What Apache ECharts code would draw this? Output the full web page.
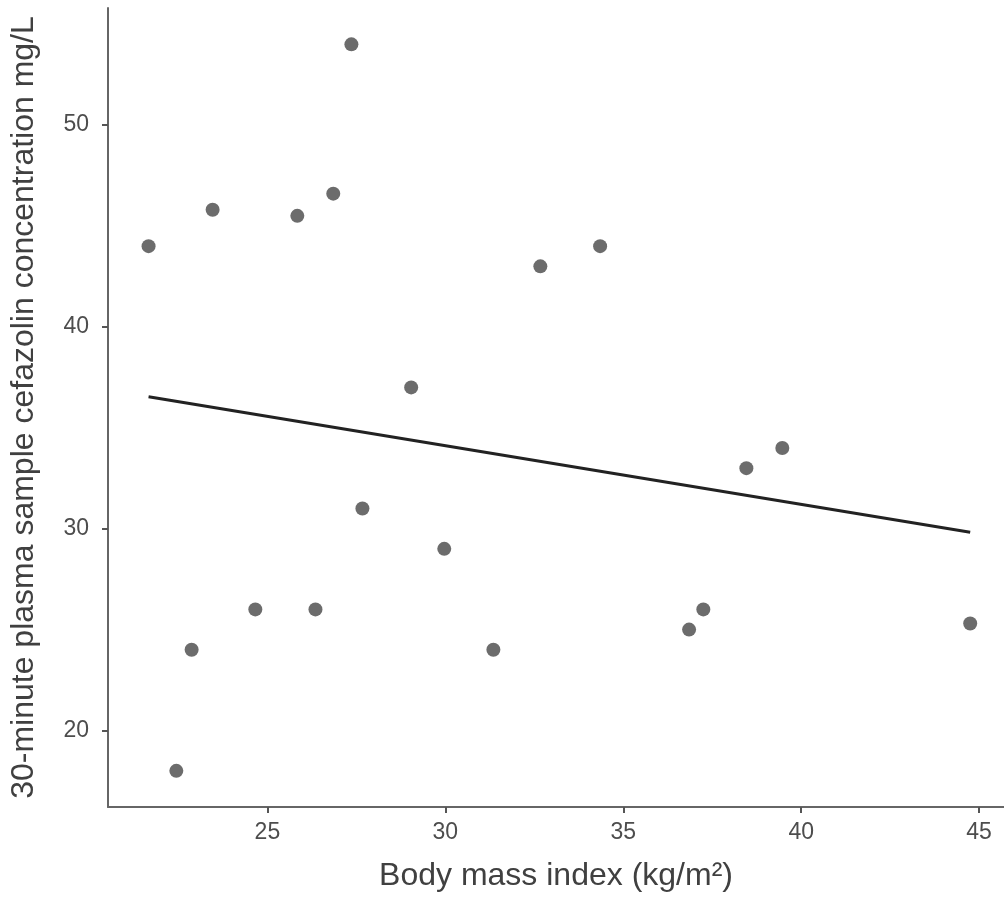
<!DOCTYPE html>
<html>
<head>
<meta charset="utf-8">
<style>
  html, body { margin: 0; padding: 0; background: #fff; }
  #chart { width: 1004px; height: 906px; }
</style>
<script src="https://cdn.jsdelivr.net/npm/echarts@6/dist/echarts.min.js"></script>
</head>
<body>
<div id="chart"></div>
<script>
// Body mass index (kg/m²) per patient
const bmi = [21.66, 22.44, 22.87, 23.46, 24.66, 25.84, 26.35, 26.85, 27.36, 27.67,
             29.04, 29.97, 31.35, 32.67, 34.35, 36.85, 37.25, 38.46, 39.47, 44.75];
// 30-minute plasma cefazolin concentration (mg/L)
const cefazolin = [44, 18, 24, 45.8, 26, 45.5, 26, 46.6, 54, 31,
                   37, 29, 24, 43, 44, 25, 26, 33, 34, 25.3];
const xTicks = [25, 30, 35, 40, 45];
const yTicks = [20, 30, 40, 50];

const points = bmi.map((x, i) => [x, cefazolin[i]]);

// ordinary least squares fit, drawn across the observed BMI range
const n = bmi.length;
const mx = bmi.reduce((a, b) => a + b, 0) / n;
const my = cefazolin.reduce((a, b) => a + b, 0) / n;
let sxy = 0, sxx = 0;
for (let i = 0; i < n; i++) {
  sxy += (bmi[i] - mx) * (cefazolin[i] - my);
  sxx += (bmi[i] - mx) * (bmi[i] - mx);
}
const slope = sxy / sxx;
const intercept = my - slope * mx;
const xLo = Math.min(...bmi), xHi = Math.max(...bmi);
const fit = [[xLo, intercept + slope * xLo], [xHi, intercept + slope * xHi]];

const font = 'Liberation Sans, Arial, sans-serif';
const axisLine = { show: true, lineStyle: { color: '#666', width: 2 } };

const chart = echarts.init(document.getElementById('chart'));
chart.setOption({
  animation: false,
  grid: { left: 108, right: 0, top: 8, bottom: 99, containLabel: false },
  xAxis: {
    type: 'value',
    min: 20.52, max: 45.7,
    axisLine: axisLine,
    splitLine: { show: false },
    axisTick: { show: true, length: 6, customValues: xTicks, lineStyle: { color: '#555', width: 2 } },
    axisLabel: { customValues: xTicks, margin: 14, fontSize: 23, color: '#4d4d4d', fontFamily: font },
    name: 'Body mass index (kg/m²)',
    nameLocation: 'middle',
    nameGap: 53,
    nameTextStyle: { fontSize: 32, color: '#404040', fontFamily: font }
  },
  yAxis: {
    type: 'value',
    min: 16.21, max: 55.8,
    axisLine: axisLine,
    splitLine: { show: false },
    axisTick: { show: true, length: 6, customValues: yTicks, lineStyle: { color: '#555', width: 2 } },
    axisLabel: { customValues: yTicks, margin: 19, fontSize: 23, color: '#4d4d4d', fontFamily: font },
    name: '30-minute plasma sample cefazolin concentration mg/L',
    nameLocation: 'middle',
    nameGap: 68,
    nameTextStyle: { fontSize: 32, color: '#404040', fontFamily: font }
  },
  series: [
    {
      type: 'scatter',
      data: points,
      symbolSize: 14,
      itemStyle: { color: '#474747' },
      z: 2
    },
    {
      type: 'line',
      data: fit,
      showSymbol: false,
      lineStyle: { color: '#222', width: 3 },
      z: 3
    }
  ]
});
</script>
</body>
</html>
